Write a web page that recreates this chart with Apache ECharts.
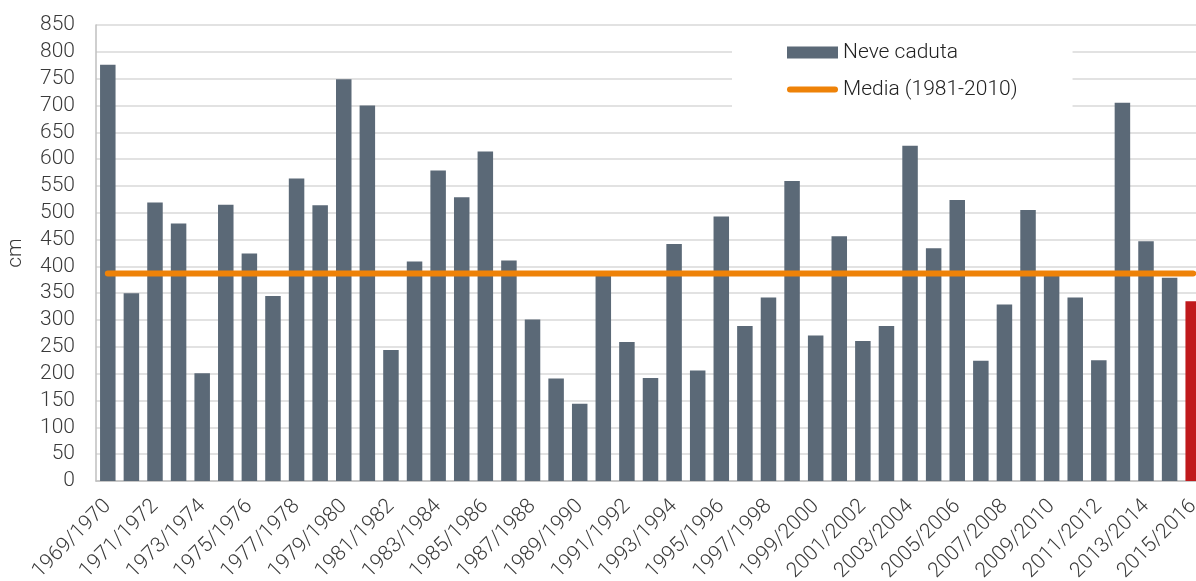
<!DOCTYPE html>
<html>
<head>
<meta charset="utf-8">
<script src="https://cdn.jsdelivr.net/npm/echarts@6/dist/echarts.min.js"></script>
<style>
html, body { margin: 0; padding: 0; background: #fff; }
#chart { width: 1196px; height: 581px; }
</style>
</head>
<body>
<div id="chart"></div>
<script>
const seasons = [
    '1969/1970', '1970/1971', '1971/1972', '1972/1973', '1973/1974', '1974/1975',
    '1975/1976', '1976/1977', '1977/1978', '1978/1979', '1979/1980', '1980/1981',
    '1981/1982', '1982/1983', '1983/1984', '1984/1985', '1985/1986', '1986/1987',
    '1987/1988', '1988/1989', '1989/1990', '1990/1991', '1991/1992', '1992/1993',
    '1993/1994', '1994/1995', '1995/1996', '1996/1997', '1997/1998', '1998/1999',
    '1999/2000', '2000/2001', '2001/2002', '2002/2003', '2003/2004', '2004/2005',
    '2005/2006', '2006/2007', '2007/2008', '2008/2009', '2009/2010', '2010/2011',
    '2011/2012', '2012/2013', '2013/2014', '2014/2015', '2015/2016'
];
const neveCaduta = [
    776, 350, 519, 480, 201, 515,
    424, 345, 564, 514, 749, 700,
    244, 409, 579, 529, 614, 411,
    301, 191, 144, 383, 259, 192,
    442, 206, 493, 289, 342, 559,
    271, 456, 261, 289, 625, 434,
    524, 224, 329, 505, 382, 342,
    225, 705, 447, 379, 335
];
const media = 387;
const currentSeason = '2015/2016';

const chart = echarts.init(document.getElementById('chart'));

const font = 'Roboto';
const textColor = '#3a3a3a';
const barColor = '#5B6977';
const lineColor = '#EE8208';

chart.setOption({
    backgroundColor: '#fff',
    animation: false,
    grid: {
        left: 96,
        top: 25,
        width: 1109,
        height: 456,
        outerBoundsMode: 'none'
    },
    legend: {
        orient: 'vertical',
        left: 732,
        top: 33,
        padding: [9, 55, 16, 55],
        backgroundColor: '#fff',
        itemWidth: 51,
        itemHeight: 12,
        itemGap: 16,
        z: 10,
        textStyle: { fontFamily: font, fontSize: 21, fontWeight: 300, color: '#222' },
        data: [
            { name: 'Neve caduta', icon: 'rect', itemStyle: { color: barColor } },
            {
                name: 'Media (1981-2010)',
                // line icon with round caps, 6px thick inside a 51x12 box
                icon: 'path://M0,0 M51,12 M3,3 L48,3 A3,3 0 0 1 48,9 L3,9 A3,3 0 0 1 3,3 Z',
                itemStyle: { color: lineColor }
            }
        ]
    },
    xAxis: {
        type: 'category',
        data: seasons,
        axisLine: { lineStyle: { color: '#bfbfbf', width: 1.5 } },
        axisTick: { show: false },
        axisLabel: {
            interval: 1,
            rotate: 45,
            margin: 22,
            fontFamily: font,
            fontSize: 21,
            fontWeight: 300,
            color: textColor
        }
    },
    yAxis: {
        type: 'value',
        min: 0,
        max: 850,
        interval: 50,
        name: 'cm',
        nameLocation: 'middle',
        nameGap: 70,
        nameTextStyle: { fontFamily: font, fontSize: 21, fontWeight: 300, color: textColor },
        axisLine: { show: true, lineStyle: { color: '#bfbfbf', width: 1.5 } },
        axisTick: { show: false },
        axisLabel: { margin: 21, fontFamily: font, fontSize: 21, fontWeight: 300, color: textColor },
        splitLine: { lineStyle: { color: '#d9d9d9', width: 1.5 } }
    },
    series: [
        {
            name: 'Neve caduta',
            type: 'bar',
            barWidth: 15.5,
            data: neveCaduta,
            itemStyle: {
                color: (p) => p.name === currentSeason ? '#C0191C' : barColor
            }
        },
        {
            name: 'Media (1981-2010)',
            type: 'line',
            symbol: 'none',
            data: seasons.map(() => media),
            itemStyle: { color: lineColor },
            lineStyle: { color: lineColor, width: 6, cap: 'round' },
            z: 3
        }
    ]
});
</script>
</body>
</html>
